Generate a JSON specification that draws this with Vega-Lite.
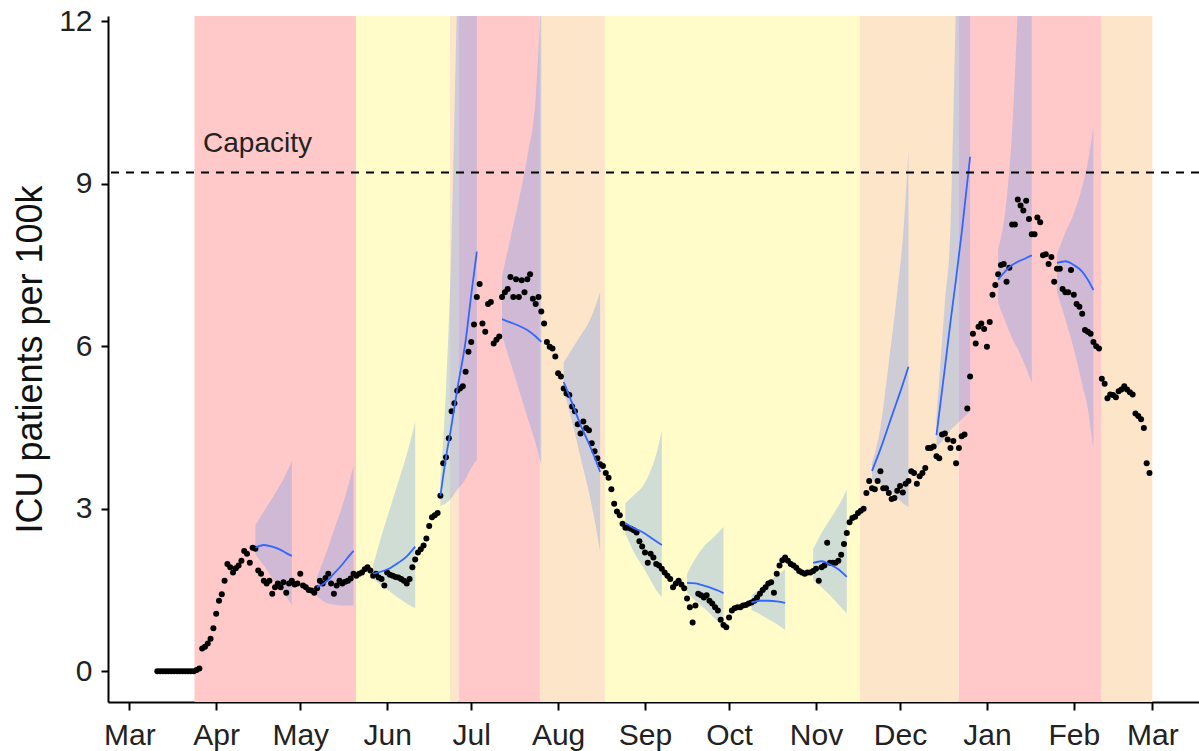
{
"$schema":"https://vega.github.io/schema/vega-lite/v6.json",
"autosize":{"type":"none"},
"width":1091,"height":686,
"padding":{"left":108,"top":16,"right":0,"bottom":49},
"background":"white",
"datasets":{
"bg":[
{"s":"2020-03-24T06:00:00Z","e":"2020-05-20T22:00:00Z","lvl":"red"},
{"s":"2020-05-20T22:00:00Z","e":"2020-06-23T10:00:00Z","lvl":"yellow"},
{"s":"2020-06-23T10:00:00Z","e":"2020-06-26T12:00:00Z","lvl":"orange"},
{"s":"2020-06-26T12:00:00Z","e":"2020-07-25T12:00:00Z","lvl":"red"},
{"s":"2020-07-25T12:00:00Z","e":"2020-08-17T17:00:00Z","lvl":"orange"},
{"s":"2020-08-17T17:00:00Z","e":"2020-11-16T17:00:00Z","lvl":"yellow"},
{"s":"2020-11-16T17:00:00Z","e":"2020-12-21T22:00:00Z","lvl":"orange"},
{"s":"2020-12-21T22:00:00Z","e":"2021-02-10T22:00:00Z","lvl":"red"},
{"s":"2021-02-10T22:00:00Z","e":"2021-03-01T00:00:00Z","lvl":"orange"}
],
"fc":[
{"f":1,"d":"2020-04-15","m":2.28,"lo":2.15,"hi":2.7},
{"f":1,"d":"2020-04-18","m":2.33,"lo":1.95,"hi":2.95},
{"f":1,"d":"2020-04-21","m":2.3,"lo":1.72,"hi":3.2},
{"f":1,"d":"2020-04-24","m":2.24,"lo":1.52,"hi":3.45},
{"f":1,"d":"2020-04-26","m":2.18,"lo":1.38,"hi":3.65},
{"f":1,"d":"2020-04-28","m":2.13,"lo":1.22,"hi":3.88},
{"f":2,"d":"2020-05-07","m":1.55,"lo":1.38,"hi":1.75},
{"f":2,"d":"2020-05-10","m":1.64,"lo":1.27,"hi":2.15},
{"f":2,"d":"2020-05-13","m":1.8,"lo":1.23,"hi":2.6},
{"f":2,"d":"2020-05-16","m":1.97,"lo":1.21,"hi":3.05},
{"f":2,"d":"2020-05-18","m":2.1,"lo":1.21,"hi":3.4},
{"f":2,"d":"2020-05-20","m":2.22,"lo":1.21,"hi":3.8},
{"f":3,"d":"2020-05-27","m":1.8,"lo":1.7,"hi":1.95},
{"f":3,"d":"2020-05-30","m":1.84,"lo":1.58,"hi":2.5},
{"f":3,"d":"2020-06-02","m":1.9,"lo":1.47,"hi":3.0},
{"f":3,"d":"2020-06-05","m":2.0,"lo":1.35,"hi":3.5},
{"f":3,"d":"2020-06-08","m":2.12,"lo":1.25,"hi":4.0},
{"f":3,"d":"2020-06-11","m":2.3,"lo":1.16,"hi":4.6},
{"f":4,"d":"2020-06-20","m":3.24,"lo":3.05,"hi":3.5},
{"f":4,"d":"2020-06-22","m":3.95,"lo":3.1,"hi":5.2},
{"f":4,"d":"2020-06-24","m":4.55,"lo":3.2,"hi":8.0},
{"f":4,"d":"2020-06-26","m":5.2,"lo":3.35,"hi":12.5},
{"f":4,"d":"2020-06-29","m":6.1,"lo":3.55,"hi":18},
{"f":4,"d":"2020-07-01","m":6.95,"lo":3.75,"hi":22},
{"f":4,"d":"2020-07-03","m":7.75,"lo":3.9,"hi":26},
{"f":5,"d":"2020-07-12","m":6.5,"lo":6.2,"hi":7.3},
{"f":5,"d":"2020-07-15","m":6.44,"lo":5.7,"hi":8.0},
{"f":5,"d":"2020-07-18","m":6.38,"lo":5.2,"hi":8.7},
{"f":5,"d":"2020-07-21","m":6.3,"lo":4.7,"hi":9.5},
{"f":5,"d":"2020-07-24","m":6.18,"lo":4.2,"hi":10.6},
{"f":5,"d":"2020-07-26","m":6.08,"lo":3.8,"hi":12.5},
{"f":6,"d":"2020-08-03","m":5.34,"lo":5.2,"hi":5.7},
{"f":6,"d":"2020-08-06","m":4.95,"lo":4.6,"hi":5.95},
{"f":6,"d":"2020-08-09","m":4.55,"lo":3.95,"hi":6.2},
{"f":6,"d":"2020-08-12","m":4.2,"lo":3.3,"hi":6.45},
{"f":6,"d":"2020-08-14","m":3.95,"lo":2.8,"hi":6.7},
{"f":6,"d":"2020-08-16","m":3.68,"lo":2.2,"hi":7.0},
{"f":7,"d":"2020-08-25","m":2.73,"lo":2.55,"hi":3.1},
{"f":7,"d":"2020-08-28","m":2.64,"lo":2.2,"hi":3.25},
{"f":7,"d":"2020-08-31","m":2.57,"lo":1.95,"hi":3.4},
{"f":7,"d":"2020-09-03","m":2.47,"lo":1.68,"hi":3.7},
{"f":7,"d":"2020-09-05","m":2.4,"lo":1.5,"hi":4.0},
{"f":7,"d":"2020-09-07","m":2.33,"lo":1.37,"hi":4.45},
{"f":8,"d":"2020-09-16","m":1.63,"lo":1.45,"hi":1.8},
{"f":8,"d":"2020-09-19","m":1.62,"lo":1.3,"hi":2.08},
{"f":8,"d":"2020-09-22","m":1.58,"lo":1.17,"hi":2.3},
{"f":8,"d":"2020-09-25","m":1.53,"lo":1.02,"hi":2.45},
{"f":8,"d":"2020-09-27","m":1.49,"lo":0.92,"hi":2.55},
{"f":8,"d":"2020-09-29","m":1.44,"lo":0.79,"hi":2.66},
{"f":9,"d":"2020-10-09","m":1.27,"lo":1.13,"hi":1.4},
{"f":9,"d":"2020-10-12","m":1.3,"lo":1.05,"hi":1.52},
{"f":9,"d":"2020-10-15","m":1.3,"lo":0.96,"hi":1.65},
{"f":9,"d":"2020-10-18","m":1.29,"lo":0.87,"hi":1.76},
{"f":9,"d":"2020-10-21","m":1.26,"lo":0.76,"hi":1.88},
{"f":10,"d":"2020-10-31","m":2.0,"lo":1.68,"hi":2.25},
{"f":10,"d":"2020-11-03","m":2.03,"lo":1.55,"hi":2.55},
{"f":10,"d":"2020-11-06","m":1.97,"lo":1.4,"hi":2.8},
{"f":10,"d":"2020-11-09","m":1.88,"lo":1.23,"hi":3.05},
{"f":10,"d":"2020-11-12","m":1.74,"lo":1.07,"hi":3.35},
{"f":11,"d":"2020-11-21","m":3.7,"lo":3.55,"hi":3.85},
{"f":11,"d":"2020-11-24","m":4.1,"lo":3.45,"hi":4.5},
{"f":11,"d":"2020-11-27","m":4.55,"lo":3.35,"hi":5.7},
{"f":11,"d":"2020-11-30","m":5.0,"lo":3.2,"hi":7.0},
{"f":11,"d":"2020-12-02","m":5.3,"lo":3.1,"hi":8.0},
{"f":11,"d":"2020-12-04","m":5.62,"lo":3.03,"hi":9.6},
{"f":12,"d":"2020-12-14","m":4.36,"lo":4.15,"hi":4.7},
{"f":12,"d":"2020-12-17","m":5.6,"lo":4.3,"hi":6.8},
{"f":12,"d":"2020-12-19","m":6.45,"lo":4.45,"hi":8.2},
{"f":12,"d":"2020-12-21","m":7.25,"lo":4.55,"hi":12.5},
{"f":12,"d":"2020-12-23","m":8.1,"lo":4.65,"hi":17},
{"f":12,"d":"2020-12-26","m":9.5,"lo":4.8,"hi":25},
{"f":13,"d":"2021-01-05","m":7.23,"lo":6.8,"hi":7.8},
{"f":13,"d":"2021-01-08","m":7.41,"lo":6.4,"hi":8.7},
{"f":13,"d":"2021-01-10","m":7.5,"lo":6.15,"hi":10.0},
{"f":13,"d":"2021-01-12","m":7.56,"lo":5.95,"hi":12.2},
{"f":13,"d":"2021-01-15","m":7.63,"lo":5.6,"hi":16},
{"f":13,"d":"2021-01-17","m":7.68,"lo":5.32,"hi":20},
{"f":14,"d":"2021-01-26","m":7.54,"lo":7.0,"hi":7.7},
{"f":14,"d":"2021-01-29","m":7.57,"lo":6.5,"hi":8.1},
{"f":14,"d":"2021-02-01","m":7.5,"lo":5.95,"hi":8.45},
{"f":14,"d":"2021-02-04","m":7.38,"lo":5.3,"hi":8.95},
{"f":14,"d":"2021-02-06","m":7.23,"lo":4.85,"hi":9.4},
{"f":14,"d":"2021-02-08","m":7.04,"lo":4.1,"hi":10.05}
],
"pts":[
{"d":"2020-03-11","v":0},{"d":"2020-03-12","v":0},{"d":"2020-03-13","v":0},{"d":"2020-03-14","v":0},{"d":"2020-03-15","v":0},{"d":"2020-03-16","v":0},{"d":"2020-03-17","v":0},{"d":"2020-03-18","v":0},{"d":"2020-03-19","v":0},{"d":"2020-03-20","v":0},{"d":"2020-03-21","v":0},{"d":"2020-03-22","v":0},{"d":"2020-03-23","v":0},{"d":"2020-03-24","v":0},
{"d":"2020-03-25","v":0.02},{"d":"2020-03-26","v":0.05},{"d":"2020-03-27","v":0.42},{"d":"2020-03-28","v":0.45},{"d":"2020-03-29","v":0.51},{"d":"2020-03-30","v":0.6},{"d":"2020-03-31","v":0.79},
{"d":"2020-04-01","v":1.06},{"d":"2020-04-02","v":1.3},{"d":"2020-04-03","v":1.42},{"d":"2020-04-04","v":1.67},{"d":"2020-04-05","v":1.98},{"d":"2020-04-06","v":1.92},{"d":"2020-04-07","v":1.82},{"d":"2020-04-08","v":1.9},{"d":"2020-04-09","v":1.95},{"d":"2020-04-10","v":2.04},
{"d":"2020-04-11","v":2.22},{"d":"2020-04-12","v":2.17},{"d":"2020-04-13","v":2.0},{"d":"2020-04-14","v":2.28},{"d":"2020-04-15","v":2.26},{"d":"2020-04-16","v":1.86},{"d":"2020-04-17","v":1.8},{"d":"2020-04-18","v":1.67},{"d":"2020-04-19","v":1.62},{"d":"2020-04-20","v":1.67},
{"d":"2020-04-21","v":1.43},{"d":"2020-04-22","v":1.55},{"d":"2020-04-23","v":1.62},{"d":"2020-04-24","v":1.55},{"d":"2020-04-25","v":1.64},{"d":"2020-04-26","v":1.45},{"d":"2020-04-27","v":1.62},{"d":"2020-04-28","v":1.67},{"d":"2020-04-29","v":1.6},{"d":"2020-04-30","v":1.62},
{"d":"2020-05-01","v":1.8},{"d":"2020-05-02","v":1.58},{"d":"2020-05-03","v":1.55},{"d":"2020-05-04","v":1.5},{"d":"2020-05-05","v":1.49},{"d":"2020-05-06","v":1.45},{"d":"2020-05-07","v":1.53},{"d":"2020-05-08","v":1.67},{"d":"2020-05-09","v":1.62},{"d":"2020-05-10","v":1.72},
{"d":"2020-05-11","v":1.8},{"d":"2020-05-12","v":1.62},{"d":"2020-05-13","v":1.43},{"d":"2020-05-14","v":1.58},{"d":"2020-05-15","v":1.67},{"d":"2020-05-16","v":1.62},{"d":"2020-05-17","v":1.65},{"d":"2020-05-18","v":1.67},{"d":"2020-05-19","v":1.71},{"d":"2020-05-20","v":1.8},
{"d":"2020-05-21","v":1.76},{"d":"2020-05-22","v":1.8},{"d":"2020-05-23","v":1.82},{"d":"2020-05-24","v":1.88},{"d":"2020-05-25","v":1.92},{"d":"2020-05-26","v":1.86},{"d":"2020-05-27","v":1.76},{"d":"2020-05-28","v":1.8},{"d":"2020-05-29","v":1.73},{"d":"2020-05-30","v":1.7},{"d":"2020-05-31","v":1.58},
{"d":"2020-06-01","v":1.82},{"d":"2020-06-02","v":1.78},{"d":"2020-06-03","v":1.76},{"d":"2020-06-04","v":1.74},{"d":"2020-06-05","v":1.73},{"d":"2020-06-06","v":1.7},{"d":"2020-06-07","v":1.67},{"d":"2020-06-08","v":1.62},{"d":"2020-06-09","v":1.7},{"d":"2020-06-10","v":1.92},
{"d":"2020-06-11","v":2.06},{"d":"2020-06-12","v":2.19},{"d":"2020-06-13","v":2.25},{"d":"2020-06-14","v":2.32},{"d":"2020-06-15","v":2.45},{"d":"2020-06-16","v":2.68},{"d":"2020-06-17","v":2.84},{"d":"2020-06-18","v":2.88},{"d":"2020-06-19","v":2.92},{"d":"2020-06-20","v":3.24},
{"d":"2020-06-21","v":3.84},{"d":"2020-06-22","v":3.95},{"d":"2020-06-23","v":4.3},{"d":"2020-06-24","v":4.8},{"d":"2020-06-25","v":4.95},{"d":"2020-06-26","v":5.18},{"d":"2020-06-27","v":5.22},{"d":"2020-06-28","v":5.26},{"d":"2020-06-29","v":5.53},{"d":"2020-06-30","v":5.9},
{"d":"2020-07-01","v":6.08},{"d":"2020-07-02","v":6.4},{"d":"2020-07-03","v":6.91},{"d":"2020-07-04","v":7.15},{"d":"2020-07-05","v":6.42},{"d":"2020-07-06","v":6.27},{"d":"2020-07-07","v":6.78},{"d":"2020-07-08","v":6.82},{"d":"2020-07-09","v":6.05},{"d":"2020-07-10","v":6.12},
{"d":"2020-07-11","v":6.18},{"d":"2020-07-12","v":6.91},{"d":"2020-07-13","v":7.0},{"d":"2020-07-14","v":7.06},{"d":"2020-07-15","v":7.28},{"d":"2020-07-16","v":6.91},{"d":"2020-07-17","v":7.24},{"d":"2020-07-18","v":6.91},{"d":"2020-07-19","v":7.22},{"d":"2020-07-20","v":7.0},
{"d":"2020-07-21","v":7.24},{"d":"2020-07-22","v":7.33},{"d":"2020-07-23","v":6.88},{"d":"2020-07-24","v":6.78},{"d":"2020-07-25","v":6.91},{"d":"2020-07-26","v":6.64},{"d":"2020-07-27","v":6.42},{"d":"2020-07-28","v":6.08},{"d":"2020-07-29","v":5.99},{"d":"2020-07-30","v":5.96},{"d":"2020-07-31","v":5.81},
{"d":"2020-08-01","v":5.5},{"d":"2020-08-02","v":5.44},{"d":"2020-08-03","v":5.22},{"d":"2020-08-04","v":5.13},{"d":"2020-08-05","v":5.1},{"d":"2020-08-06","v":4.89},{"d":"2020-08-07","v":4.8},{"d":"2020-08-08","v":4.56},{"d":"2020-08-09","v":4.39},{"d":"2020-08-10","v":4.61},
{"d":"2020-08-11","v":4.49},{"d":"2020-08-12","v":4.45},{"d":"2020-08-13","v":4.21},{"d":"2020-08-14","v":4.06},{"d":"2020-08-15","v":3.93},{"d":"2020-08-16","v":3.82},{"d":"2020-08-17","v":3.79},{"d":"2020-08-18","v":3.66},{"d":"2020-08-19","v":3.57},{"d":"2020-08-20","v":3.36},
{"d":"2020-08-21","v":3.09},{"d":"2020-08-22","v":2.95},{"d":"2020-08-23","v":2.88},{"d":"2020-08-24","v":2.72},{"d":"2020-08-25","v":2.65},{"d":"2020-08-26","v":2.65},{"d":"2020-08-27","v":2.63},{"d":"2020-08-28","v":2.6},{"d":"2020-08-29","v":2.56},{"d":"2020-08-30","v":2.4},{"d":"2020-08-31","v":2.3},
{"d":"2020-09-01","v":2.19},{"d":"2020-09-02","v":2.0},{"d":"2020-09-03","v":2.17},{"d":"2020-09-04","v":2.1},{"d":"2020-09-05","v":1.98},{"d":"2020-09-06","v":1.95},{"d":"2020-09-07","v":1.89},{"d":"2020-09-08","v":1.82},{"d":"2020-09-09","v":1.76},{"d":"2020-09-10","v":1.7},
{"d":"2020-09-11","v":1.55},{"d":"2020-09-12","v":1.62},{"d":"2020-09-13","v":1.67},{"d":"2020-09-14","v":1.6},{"d":"2020-09-15","v":1.53},{"d":"2020-09-16","v":1.34},{"d":"2020-09-17","v":1.18},{"d":"2020-09-18","v":0.9},{"d":"2020-09-19","v":1.21},{"d":"2020-09-20","v":1.43},
{"d":"2020-09-21","v":1.4},{"d":"2020-09-22","v":1.36},{"d":"2020-09-23","v":1.4},{"d":"2020-09-24","v":1.3},{"d":"2020-09-25","v":1.25},{"d":"2020-09-26","v":1.18},{"d":"2020-09-27","v":1.12},{"d":"2020-09-28","v":0.95},{"d":"2020-09-29","v":0.85},{"d":"2020-09-30","v":0.81},
{"d":"2020-10-01","v":0.99},{"d":"2020-10-02","v":1.12},{"d":"2020-10-03","v":1.16},{"d":"2020-10-04","v":1.18},{"d":"2020-10-05","v":1.18},{"d":"2020-10-06","v":1.21},{"d":"2020-10-07","v":1.22},{"d":"2020-10-08","v":1.25},{"d":"2020-10-09","v":1.27},{"d":"2020-10-10","v":1.3},
{"d":"2020-10-11","v":1.36},{"d":"2020-10-12","v":1.43},{"d":"2020-10-13","v":1.5},{"d":"2020-10-14","v":1.55},{"d":"2020-10-15","v":1.62},{"d":"2020-10-16","v":1.64},{"d":"2020-10-17","v":1.45},{"d":"2020-10-18","v":1.8},{"d":"2020-10-19","v":1.95},{"d":"2020-10-20","v":2.05},
{"d":"2020-10-21","v":2.1},{"d":"2020-10-22","v":2.04},{"d":"2020-10-23","v":1.98},{"d":"2020-10-24","v":1.95},{"d":"2020-10-25","v":1.91},{"d":"2020-10-26","v":1.85},{"d":"2020-10-27","v":1.82},{"d":"2020-10-28","v":1.8},{"d":"2020-10-29","v":1.82},{"d":"2020-10-30","v":1.82},{"d":"2020-10-31","v":1.85},
{"d":"2020-11-01","v":1.89},{"d":"2020-11-02","v":1.67},{"d":"2020-11-03","v":1.92},{"d":"2020-11-04","v":1.95},{"d":"2020-11-05","v":2.37},{"d":"2020-11-06","v":2.0},{"d":"2020-11-07","v":2.0},{"d":"2020-11-08","v":2.0},{"d":"2020-11-09","v":2.04},{"d":"2020-11-10","v":2.15},
{"d":"2020-11-11","v":2.35},{"d":"2020-11-12","v":2.55},{"d":"2020-11-13","v":2.75},{"d":"2020-11-14","v":2.83},{"d":"2020-11-15","v":2.85},{"d":"2020-11-16","v":2.92},{"d":"2020-11-17","v":2.96},{"d":"2020-11-18","v":3.0},{"d":"2020-11-19","v":3.29},{"d":"2020-11-20","v":3.51},
{"d":"2020-11-21","v":3.38},{"d":"2020-11-22","v":3.36},{"d":"2020-11-23","v":3.51},{"d":"2020-11-24","v":3.69},{"d":"2020-11-25","v":3.38},{"d":"2020-11-26","v":3.38},{"d":"2020-11-27","v":3.29},{"d":"2020-11-28","v":3.18},{"d":"2020-11-29","v":3.2},{"d":"2020-11-30","v":3.33},
{"d":"2020-12-01","v":3.42},{"d":"2020-12-02","v":3.3},{"d":"2020-12-03","v":3.46},{"d":"2020-12-04","v":3.51},{"d":"2020-12-05","v":3.69},{"d":"2020-12-06","v":3.66},{"d":"2020-12-07","v":3.46},{"d":"2020-12-08","v":3.6},{"d":"2020-12-09","v":3.66},{"d":"2020-12-10","v":3.75},
{"d":"2020-12-11","v":4.12},{"d":"2020-12-12","v":4.12},{"d":"2020-12-13","v":4.15},{"d":"2020-12-14","v":3.97},{"d":"2020-12-15","v":3.93},{"d":"2020-12-16","v":4.37},{"d":"2020-12-17","v":4.39},{"d":"2020-12-18","v":4.28},{"d":"2020-12-19","v":4.12},{"d":"2020-12-20","v":4.25},
{"d":"2020-12-21","v":3.84},{"d":"2020-12-22","v":4.12},{"d":"2020-12-23","v":4.34},{"d":"2020-12-24","v":4.37},{"d":"2020-12-25","v":4.85},{"d":"2020-12-26","v":5.44},{"d":"2020-12-27","v":6.23},{"d":"2020-12-28","v":6.05},{"d":"2020-12-29","v":6.36},{"d":"2020-12-30","v":6.42},{"d":"2020-12-31","v":6.32},
{"d":"2021-01-01","v":5.99},{"d":"2021-01-02","v":6.45},{"d":"2021-01-03","v":6.95},{"d":"2021-01-04","v":7.13},{"d":"2021-01-05","v":7.33},{"d":"2021-01-06","v":7.5},{"d":"2021-01-07","v":7.52},{"d":"2021-01-08","v":7.19},{"d":"2021-01-09","v":7.45},{"d":"2021-01-10","v":8.25},
{"d":"2021-01-11","v":8.25},{"d":"2021-01-12","v":8.71},{"d":"2021-01-13","v":8.6},{"d":"2021-01-14","v":8.51},{"d":"2021-01-15","v":8.69},{"d":"2021-01-16","v":8.35},{"d":"2021-01-17","v":8.07},{"d":"2021-01-18","v":8.07},{"d":"2021-01-19","v":8.38},{"d":"2021-01-20","v":8.29},
{"d":"2021-01-21","v":7.68},{"d":"2021-01-22","v":7.7},{"d":"2021-01-23","v":7.52},{"d":"2021-01-24","v":7.65},{"d":"2021-01-25","v":7.19},{"d":"2021-01-26","v":7.43},{"d":"2021-01-27","v":7.43},{"d":"2021-01-28","v":7.06},{"d":"2021-01-29","v":7.0},{"d":"2021-01-30","v":7.0},{"d":"2021-01-31","v":7.41},
{"d":"2021-02-01","v":6.95},{"d":"2021-02-02","v":6.78},{"d":"2021-02-03","v":6.73},{"d":"2021-02-04","v":6.6},{"d":"2021-02-05","v":6.3},{"d":"2021-02-06","v":6.27},{"d":"2021-02-07","v":6.23},{"d":"2021-02-08","v":6.08},{"d":"2021-02-09","v":6.0},{"d":"2021-02-10","v":5.96},
{"d":"2021-02-11","v":5.4},{"d":"2021-02-12","v":5.31},{"d":"2021-02-13","v":5.04},{"d":"2021-02-14","v":5.11},{"d":"2021-02-15","v":5.1},{"d":"2021-02-16","v":5.06},{"d":"2021-02-17","v":5.17},{"d":"2021-02-18","v":5.2},{"d":"2021-02-19","v":5.26},{"d":"2021-02-20","v":5.2},
{"d":"2021-02-21","v":5.15},{"d":"2021-02-22","v":5.11},{"d":"2021-02-23","v":4.76},{"d":"2021-02-24","v":4.71},{"d":"2021-02-25","v":4.65},{"d":"2021-02-26","v":4.49},{"d":"2021-02-27","v":3.84},{"d":"2021-02-28","v":3.66}
],
"cap":[{"cap":9.21,"label":"Capacity","d":"2020-04-15T18:00:00Z"}]
},
"layer":[
{"data":{"name":"bg"},
 "mark":{"type":"rect"},
 "encoding":{
  "x":{"field":"s","type":"temporal","title":null,
       "scale":{"type":"utc","domain":[1582364160000,1615997088000],"nice":false},
       "axis":{"values":[1583020800000,1585699200000,1588291200000,1590969600000,1593561600000,1596240000000,1598918400000,1601510400000,1604188800000,1606780800000,1609459200000,1612137600000,1614556800000],
               "labelExpr":"utcFormat(datum.value, '%b')","labelFlush":false,"labelOverlap":false}},
  "x2":{"field":"e"},
  "color":{"field":"lvl","type":"nominal","legend":null,
           "scale":{"domain":["red","yellow","orange"],"range":["#FFC9C9","#FFFCCA","#FDE5CA"]}}
 }},
{"data":{"name":"fc"},
 "mark":{"type":"area","clip":true,"color":"#6495ED","opacity":0.3,"interpolate":"monotone"},
 "encoding":{
  "x":{"field":"d","type":"temporal","title":null},
  "y":{"field":"lo","type":"quantitative","title":"ICU patients per 100k",
       "scale":{"domain":[-0.57,12.1],"nice":false,"zero":false},
       "axis":{"values":[0,3,6,9,12],"labelExpr":"format(datum.value, 'd')"}},
  "y2":{"field":"hi"},
  "detail":{"field":"f","type":"nominal"}
 }},
{"data":{"name":"pts"},
 "mark":{"type":"point","filled":true,"color":"#000000","opacity":1,"size":36},
 "encoding":{
  "x":{"field":"d","type":"temporal","title":null},
  "y":{"field":"v","type":"quantitative","title":"ICU patients per 100k"}
 }},
{"data":{"name":"fc"},
 "mark":{"type":"line","clip":true,"color":"#3366FF","strokeWidth":1.8,"interpolate":"monotone"},
 "encoding":{
  "x":{"field":"d","type":"temporal","title":null},
  "y":{"field":"m","type":"quantitative","title":"ICU patients per 100k"},
  "detail":{"field":"f","type":"nominal"}
 }},
{"data":{"name":"cap"},
 "mark":{"type":"rule","color":"#000000","strokeWidth":2,"strokeDash":[8,7]},
 "encoding":{
  "y":{"field":"cap","type":"quantitative","title":"ICU patients per 100k"}
 }},
{"data":{"name":"cap"},
 "mark":{"type":"text","font":"Liberation Sans","fontSize":28,"color":"#222222","align":"center","baseline":"alphabetic","dy":-20},
 "encoding":{
  "x":{"field":"d","type":"temporal","title":null},
  "y":{"field":"cap","type":"quantitative","title":"ICU patients per 100k"},
  "text":{"field":"label"}
 }}
],
"config":{
 "view":{"stroke":null},
 "axis":{"domainColor":"#000000","domainWidth":2,"tickColor":"#000000","tickWidth":2,"grid":false,
         "labelFont":"Liberation Sans","labelFontSize":30,"labelColor":"#222222",
         "titleFont":"Liberation Sans","titleFontSize":36,"titleFontWeight":"normal","titleColor":"#111111"},
 "axisX":{"tickSize":8,"labelPadding":10},
 "axisY":{"tickSize":7,"labelPadding":9,"titlePadding":9}
}
}
